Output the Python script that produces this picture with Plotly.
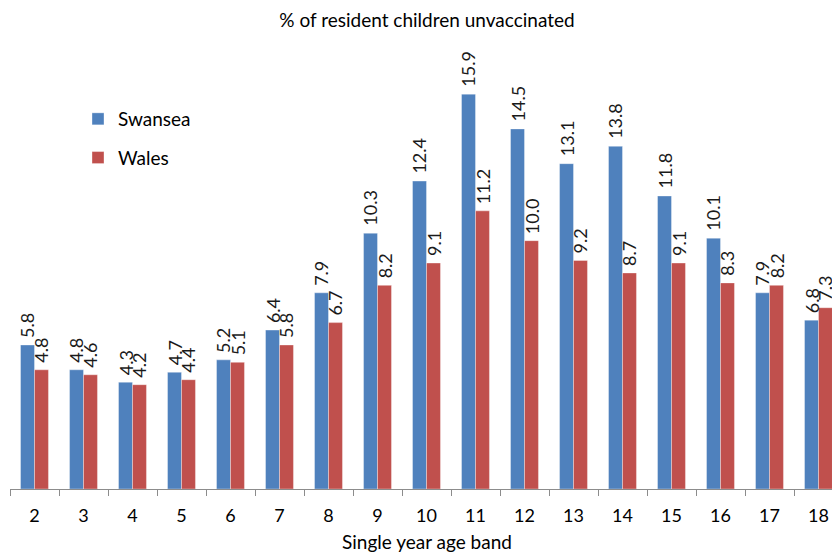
import plotly.graph_objects as go

# Single-year age bands and percentage of resident children unvaccinated
ages = ["2", "3", "4", "5", "6", "7", "8", "9", "10", "11", "12", "13", "14", "15", "16", "17", "18"]
swansea = [5.8, 4.8, 4.3, 4.7, 5.2, 6.4, 7.9, 10.3, 12.4, 15.9, 14.5, 13.1, 13.8, 11.8, 10.1, 7.9, 6.8]
wales = [4.8, 4.6, 4.2, 4.4, 5.1, 5.8, 6.7, 8.2, 9.1, 11.2, 10.0, 9.2, 8.7, 9.1, 8.3, 8.2, 7.3]

FONT = "Lato, 'Open Sans', sans-serif"
BLUE = "#4F81BD"
RED = "#C0504D"

W, H = 832, 554
ML, MR, MT, MB = 10, 0, 42, 65
PX_PER_CAT = 49.0
plot_w = W - ML - MR
plot_h = H - MT - MB
x_max = -0.5 + plot_w / PX_PER_CAT

fig = go.Figure()
fig.add_trace(go.Bar(
    x=ages, y=swansea, name="Swansea", legendgroup="a",
    marker=dict(color=BLUE, line=dict(color="rgba(255,255,255,0.35)", width=1)),
))
fig.add_trace(go.Bar(
    x=ages, y=wales, name="Wales", legendgroup="b",
    marker=dict(color=RED, line=dict(color="rgba(255,255,255,0.35)", width=1)),
))

# Rotated value labels above each bar (category axis positions by index)
half_bar = PX_PER_CAT * 0.57 / 4
for series, shift in ((swansea, -half_bar), (wales, half_bar)):
    for i, v in enumerate(series):
        fig.add_annotation(
            x=i, y=v, xref="x", yref="y", text=f"{v:.1f}",
            textangle=-90, showarrow=False, xanchor="center", yanchor="bottom",
            xshift=shift, yshift=5,
            font=dict(family=FONT, size=18, color="#1a1a1a"),
        )

fig.add_annotation(
    x=(427 - ML) / plot_w, y=-(541 - (H - MB)) / plot_h,
    xref="paper", yref="paper", text="Single year age band", showarrow=False,
    xanchor="center", yanchor="middle",
    font=dict(family=FONT, size=19, color="#000000"),
)

fig.update_layout(
    width=W, height=H,
    margin=dict(l=ML, r=MR, t=MT, b=MB, pad=0),
    paper_bgcolor="white", plot_bgcolor="white",
    barmode="group", bargap=0.43, bargroupgap=0.0,
    font=dict(family=FONT, size=18, color="#000000"),
    title=dict(
        text="% of resident children unvaccinated",
        x=427 / W, xref="container", xanchor="center",
        y=1 - 20 / H, yref="container", yanchor="middle",
        font=dict(family=FONT, size=19, color="#000000"),
    ),
    legend=dict(
        x=(78 - ML) / plot_w, y=(H - MB - 100) / plot_h,
        xanchor="left", yanchor="top",
        bgcolor="rgba(0,0,0,0)", tracegroupgap=11,
        font=dict(family=FONT, size=19, color="#000000"),
        itemwidth=30,
    ),
    showlegend=True,
)

fig.update_xaxes(
    type="category",
    range=[-0.5, x_max], showgrid=False, zeroline=False,
    showline=True, linecolor="#8c8c8c", linewidth=1,
    ticks="outside", tickson="boundaries", ticklen=6, tickcolor="#8c8c8c",
    ticklabelstandoff=10,
    tickfont=dict(family=FONT, size=18, color="#000000"),
)
fig.update_yaxes(
    range=[0, 18], showgrid=False, zeroline=False, showline=False,
    showticklabels=False, ticks="",
)

fig.write_html("out.html", config={"displayModeBar": False})
